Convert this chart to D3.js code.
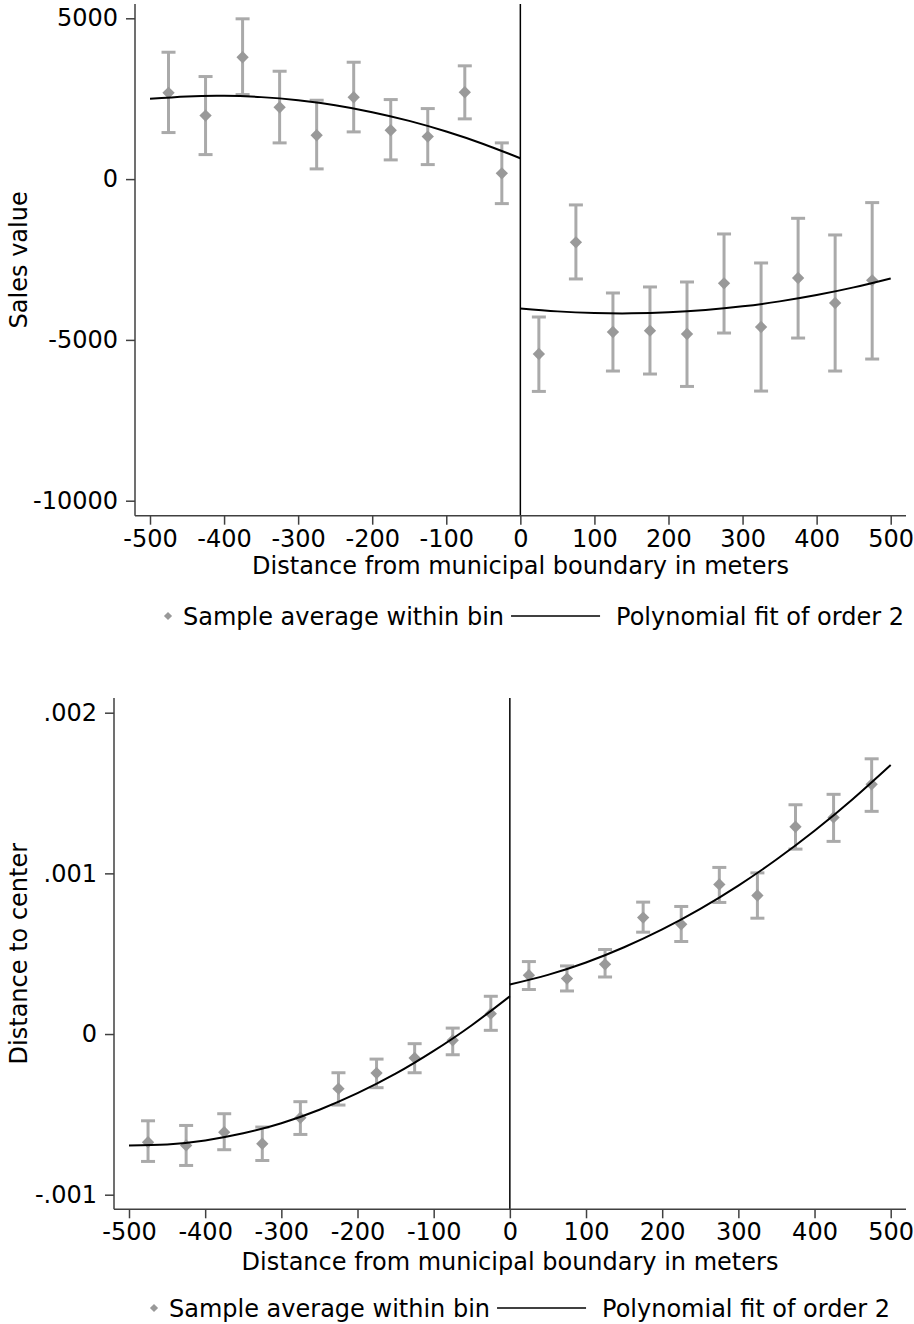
<!DOCTYPE html>
<html>
<head>
<meta charset="utf-8">
<script src="https://cdn.jsdelivr.net/npm/d3@7"></script>
<style>
  html, body { margin: 0; padding: 0; background: #fff; }
  svg { display: block; }
  text { font-family: "DejaVu Sans", sans-serif; fill: #000; }
</style>
</head>
<body>
<svg id="chart" width="914" height="1324"></svg>
<script>
// Bin centres (metres from the municipal boundary)
const binCenters = [-475, -425, -375, -325, -275, -225, -175, -125, -75, -25,
                    25, 75, 125, 175, 225, 275, 325, 375, 425, 475];

// Sales value: bin means and 95% CI bounds
const salesMean = [2682, 1976, 3790, 2234, 1363, 2545, 1518, 1322, 2701, 180,
                   -5439, -1966, -4755, -4714, -4817, -3242, -4600, -3075, -3853, -3148];
const salesHi   = [3945, 3189, 4984, 3354, 2452, 3634, 2473, 2193, 3522, 1126,
                   -4288, -803, -3541, -3354, -3199, -1706, -2608, -1219, -1737, -731];
const salesLo   = [1447, 762, 2629, 1126, 317, 1468, 597, 451, 1873, -762,
                   -6602, -3105, -5968, -6061, -6447, -4786, -6591, -4942, -5968, -5595];

// Distance to center: bin means and 95% CI bounds
const distMean = [-0.000673, -0.000693, -0.000611, -0.000683, -0.000521, -0.000340, -0.000243, -0.000149, -0.000039, 0.000127,
                  0.000366, 0.000345, 0.000434, 0.000725, 0.000683, 0.000931, 0.000862, 0.001290, 0.001348, 0.001554];
const distHi   = [-0.000540, -0.000569, -0.000496, -0.000579, -0.000421, -0.000241, -0.000156, -0.000060, 0.000037, 0.000235,
                  0.000451, 0.000424, 0.000526, 0.000821, 0.000794, 0.001037, 0.001003, 0.001427, 0.001492, 0.001713];
const distLo   = [-0.000793, -0.000818, -0.000720, -0.000787, -0.000625, -0.000442, -0.000334, -0.000241, -0.000129, 0.000023,
                  0.000277, 0.000268, 0.000355, 0.000634, 0.000576, 0.000819, 0.000721, 0.001151, 0.001199, 0.001386];

// Quadratic fit evaluated on each side of the boundary
const fitXLeft  = [-500, -450, -400, -350, -300, -250, -200, -150, -100, -50, 0];
const fitXRight = [0, 50, 100, 150, 200, 250, 300, 350, 400, 450, 500];
const salesFitLeft  = [2495, 2571, 2590, 2549, 2451, 2296, 2081, 1810, 1480, 1093, 647];
const salesFitRight = [-4020, -4113, -4165, -4175, -4144, -4071, -3957, -3802, -3605, -3367, -3087];
const distFitLeft   = [-0.000693, -0.000687, -0.000662, -0.000618, -0.000555, -0.000471, -0.000368, -0.000247, -0.000105, 0.000055, 0.000235];
const distFitRight  = [0.000308, 0.000368, 0.000445, 0.000540, 0.000651, 0.000779, 0.000924, 0.001086, 0.001265, 0.001461, 0.001674];

// Tick values and labels
const xTicks = [-500, -400, -300, -200, -100, 0, 100, 200, 300, 400, 500];
const xTickLabels = ["-500", "-400", "-300", "-200", "-100", "0", "100", "200", "300", "400", "500"];
const salesTicks = [5000, 0, -5000, -10000];
const salesTickLabels = ["5000", "0", "-5000", "-10000"];
const distTicks = [0.002, 0.001, 0, -0.001];
const distTickLabels = [".002", ".001", "0", "-.001"];

const xTitle = "Distance from municipal boundary in meters";
const legendDots = "Sample average within bin";
const legendFit = "Polynomial fit of order 2";

const FONT = 24;
const svg = d3.select("#chart");
svg.append("rect").attr("width", 914).attr("height", 1324).attr("fill", "#fff");

function panel(p) {
  const g = svg.append("g");
  const x = d3.scaleLinear().domain([-500, 500]).range(p.xRange);
  const y = d3.scaleLinear().domain(p.yDomain).range(p.yRange);

  // vertical reference line at the boundary
  g.append("line")
    .attr("x1", x(0)).attr("x2", x(0))
    .attr("y1", p.top).attr("y2", p.bottom)
    .attr("stroke", "#000").attr("stroke-width", 1.5);

  // confidence intervals
  const ci = g.append("g").attr("stroke", "#aaaaaa").attr("stroke-width", 3).attr("fill", "none");
  binCenters.forEach((b, i) => {
    const cx = x(b), y1 = y(p.hi[i]), y2 = y(p.lo[i]);
    ci.append("line").attr("x1", cx).attr("x2", cx).attr("y1", y1).attr("y2", y2);
    ci.append("line").attr("x1", cx - 7).attr("x2", cx + 7).attr("y1", y1).attr("y2", y1);
    ci.append("line").attr("x1", cx - 7).attr("x2", cx + 7).attr("y1", y2).attr("y2", y2);
  });

  // bin means (diamonds)
  g.append("g").selectAll("path")
    .data(binCenters)
    .join("path")
    .attr("d", d3.symbol().type(d3.symbolSquare).size(76))
    .attr("transform", (b, i) => `translate(${x(b)},${y(p.mean[i])}) rotate(45)`)
    .attr("fill", "#999999");

  // polynomial fits
  const line = d3.line().x(d => x(d[0])).y(d => y(d[1])).curve(d3.curveNatural);
  [[fitXLeft, p.fitL], [fitXRight, p.fitR]].forEach(([xs, ys]) => {
    g.append("path")
      .attr("d", line(xs.map((v, i) => [v, ys[i]])))
      .attr("fill", "none").attr("stroke", "#000").attr("stroke-width", 2);
  });

  // axes
  const axisColor = "#404040";
  const yAxis = g.append("g")
    .attr("transform", `translate(${p.axisX},0)`)
    .call(d3.axisLeft(y).tickValues(p.yTicks).tickFormat((d, i) => p.yLabels[i]).tickSize(9).tickPadding(8));
  yAxis.select(".domain").remove();
  const xAxis = g.append("g")
    .attr("transform", `translate(0,${p.bottom})`)
    .call(d3.axisBottom(x).tickValues(xTicks).tickFormat((d, i) => xTickLabels[i]).tickSize(9).tickPadding(5));
  xAxis.select(".domain").remove();
  [yAxis, xAxis].forEach(a => {
    a.selectAll("line").attr("stroke", axisColor).attr("stroke-width", 1.5);
    a.selectAll("text").attr("font-size", FONT).attr("font-family", "DejaVu Sans").attr("fill", "#000");
  });
  g.append("line").attr("x1", p.axisX).attr("x2", p.axisX).attr("y1", p.top).attr("y2", p.bottom)
    .attr("stroke", axisColor).attr("stroke-width", 1.5);
  g.append("line").attr("x1", p.axisX).attr("x2", 906).attr("y1", p.bottom).attr("y2", p.bottom)
    .attr("stroke", axisColor).attr("stroke-width", 1.5);

  // titles
  g.append("text")
    .attr("x", (p.axisX + 906) / 2).attr("y", p.xTitleY)
    .attr("text-anchor", "middle").attr("font-size", FONT)
    .text(xTitle);
  g.append("text")
    .attr("transform", `translate(27,${(p.top + p.bottom) / 2}) rotate(-90)`)
    .attr("text-anchor", "middle").attr("font-size", FONT)
    .text(p.yTitle);

  // legend
  const lg = g.append("g").attr("transform", `translate(${p.legendX},${p.legendY})`);
  lg.append("path").attr("d", d3.symbol().type(d3.symbolSquare).size(34))
    .attr("transform", "rotate(45)").attr("fill", "#999999");
  const t1 = lg.append("text").attr("x", 15).attr("y", 8.5).attr("font-size", FONT).text(legendDots);
  const w1 = t1.node().getComputedTextLength();
  const lx = 15 + w1 + 7;
  lg.append("line").attr("x1", lx).attr("x2", lx + 89).attr("y1", 0).attr("y2", 0)
    .attr("stroke", "#000").attr("stroke-width", 1.5);
  lg.append("text").attr("x", lx + 105).attr("y", 8.5).attr("font-size", FONT).text(legendFit);
}

panel({
  xRange: [150, 890.7], yDomain: [-10000, 5000], yRange: [500.7, 18.3],
  top: 4, bottom: 515.7, axisX: 135,
  mean: salesMean, hi: salesHi, lo: salesLo, fitL: salesFitLeft, fitR: salesFitRight,
  yTicks: salesTicks, yLabels: salesTickLabels, yTitle: "Sales value",
  xTitleY: 574, legendX: 168, legendY: 616
});

panel({
  xRange: [129, 890.7], yDomain: [-0.001, 0.002], yRange: [1194.7, 712.7],
  top: 698, bottom: 1209.3, axisX: 114,
  mean: distMean, hi: distHi, lo: distLo, fitL: distFitLeft, fitR: distFitRight,
  yTicks: distTicks, yLabels: distTickLabels, yTitle: "Distance to center",
  xTitleY: 1270, legendX: 154, legendY: 1308
});
</script>
</body>
</html>
